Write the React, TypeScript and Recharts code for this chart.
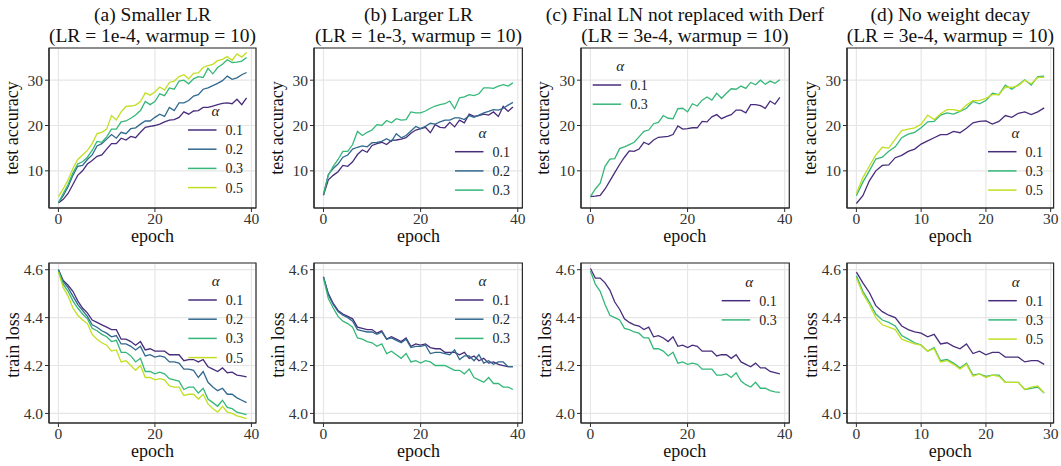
import React from 'react';
import { LineChart, Line, XAxis, YAxis, CartesianGrid, ReferenceArea } from 'recharts';

const FONT = '"Liberation Serif", "Times New Roman", Times, "DejaVu Serif", "Noto Serif", serif';

const epochs40 = [0,1,2,3,4,5,6,7,8,9,10,11,12,13,14,15,16,17,18,19,20,21,22,23,24,25,26,27,28,29,30,31,32,33,34,35,36,37,38,39];
const epochs30 = [0,1,2,3,4,5,6,7,8,9,10,11,12,13,14,15,16,17,18,19,20,21,22,23,24,25,26,27,28,29];

const alphaColors: Record<string, string> = {
  '0.1': '#472d7b',
  '0.2': '#31688e',
  '0.3': '#35b779',
  '0.5': '#c2df23',
};

const titlesLine1 = ['(a) Smaller LR', '(b) Larger LR', '(c) Final LN not replaced with Derf', '(d) No weight decay'];
const titlesLine2 = ['(LR = 1e-4, warmup = 10)', '(LR = 1e-3, warmup = 10)', '(LR = 3e-4, warmup = 10)', '(LR = 3e-4, warmup = 10)'];

const ticks40 = [0, 20, 40];
const ticks30 = [0, 10, 20, 30];
const accTicks = [10, 20, 30];
const lossTicks = [4.0, 4.2, 4.4, 4.6];

// ---------- test accuracy ----------
const accA_01 = [2.9,3.7,5,7,9,10,11.5,12.3,13.2,13.5,14.8,16,16,17.2,16.8,17.6,17.3,18.5,19.6,19.8,20,20.3,20.8,21.2,21.3,21.8,23,22.5,23.2,23.3,24,24,24.3,24.6,24.9,25,24.8,25.8,24.6,26.1];
const accA_02 = [3,4.5,6.5,9,11,11.2,12.5,13.5,15.5,16,17,18,17.2,18.5,18.2,19.3,19.5,20.3,21,21,21.8,22.5,22,24,23.3,25,25,25.5,26.5,26.8,28,28.3,28.8,29.3,29.9,30.9,30.2,30.5,31.2,31.7];
const accA_03 = [3,5,7,9.5,11.5,12,13,14.5,16.5,16.3,17.5,19.2,19.2,20.8,21,21.6,22.3,23.3,25.3,24.6,25.3,27,26.6,28.3,28,29.8,30,29.2,30.3,30.8,30.6,32.6,31.4,32.8,33.5,34.5,33.9,34,34.2,35];
const accA_05 = [4.3,6,8,10.5,12.5,13.5,14.5,16,18.2,18.5,19.2,22.2,21.2,23,24.2,24.3,24.5,25.3,27.2,26.7,27.4,28.5,27.8,29.5,29.8,30.8,31.2,30.3,31.5,31.6,32.8,33.2,33.5,34.3,34.6,35.2,34.4,35.8,35.1,36.1];

const accB_01 = [4.6,8,9,9.8,11.2,11,12,13.6,14.6,14.1,15.6,16,16.3,15.8,16.7,16.8,17,17.3,18.3,19,19.3,19.6,18.4,20.2,19.6,19.5,20.7,19.7,21.2,20.6,22.5,22,22.2,22.5,22.3,23,22,24.2,23.1,24.1];
const accB_02 = [4.8,9.2,10.5,11.5,13,13.5,14.8,15.2,15.5,15.3,16.2,16.3,16.5,17.1,16.5,18.2,17.3,17.8,18.8,19.8,19.3,19.8,20.5,20.3,20.8,21.2,21.2,21.7,21.7,21.3,22.2,21.8,22.3,22.8,23.1,23.5,23.4,23.8,24.5,25.1];
const accB_03 = [4.8,9,11,12.5,14.3,14.3,15.8,18.7,17.8,18.5,19,20.2,20,21.1,20.6,21.5,21.2,21.3,23,22.8,22.8,23.2,23.8,24.3,24.6,24.8,25.4,23.7,26.1,26.3,26.8,26.6,27,28.3,28.3,28.2,28.7,29,28.7,29.4];

const accC_01 = [4.3,4.4,4.6,6,7.8,9.6,11.4,13,14.4,14.3,14.8,16.3,15.8,16.8,17.4,17.5,17.6,18,19.9,19.2,19.3,19.5,19.5,20.9,20.8,21.9,22.4,21.5,22,22.4,23.4,23.4,22.8,24.6,24.6,24.4,23.8,25.4,24.7,26.2];
const accC_03 = [4.3,6,7.3,11,12.6,12.7,14.9,15.3,15.8,16.3,17.5,18.7,19,20.4,20.7,22.2,21.6,21.5,23.7,23.8,23,24.8,24.3,25.6,26.3,25.6,27.1,26,27.1,28.1,28,28.7,28.2,29.5,29,30,29.1,29.8,29.3,30.1];

const accD_01 = [2.8,4.5,7.8,10,11.2,11.3,12.9,13.4,14.3,14.8,15.9,16.6,17.3,18,18,18.7,18.4,19.4,20.6,20.9,21,20.3,20.9,22.2,21.8,22.7,23,22.4,23,23.9];
const accD_03 = [4.5,7.5,10,12.6,13,14.3,15.3,17.3,18.1,18.5,19.5,20.8,20.9,22.3,22.8,22.5,23.1,23.8,25.3,24.8,25.5,27.1,26.8,28.9,28,29,30.1,28.9,30.8,30.9];
const accD_05 = [5,8.5,11,13.5,15.2,15,17,18.9,19.2,19.5,20.3,22.3,21.3,22.6,23.5,23.5,23.2,24.5,25.5,25.5,26,26.8,26.8,28.5,28.4,28.8,30,29.2,30.6,30.6];

// ---------- train loss ----------
const lossA_01 = [4.6,4.555,4.535,4.51,4.47,4.44,4.42,4.39,4.38,4.37,4.36,4.35,4.35,4.31,4.31,4.3,4.285,4.3,4.265,4.27,4.26,4.26,4.26,4.245,4.245,4.245,4.22,4.225,4.225,4.215,4.225,4.195,4.185,4.175,4.19,4.17,4.172,4.16,4.157,4.153];
const lossA_02 = [4.6,4.55,4.525,4.49,4.455,4.43,4.405,4.37,4.36,4.345,4.335,4.32,4.325,4.29,4.29,4.28,4.265,4.28,4.24,4.245,4.235,4.24,4.235,4.215,4.215,4.21,4.185,4.185,4.18,4.15,4.175,4.13,4.11,4.095,4.105,4.08,4.08,4.065,4.055,4.045];
const lossA_03 = [4.595,4.54,4.51,4.47,4.44,4.415,4.395,4.355,4.345,4.33,4.32,4.3,4.305,4.255,4.255,4.24,4.215,4.23,4.175,4.175,4.165,4.172,4.165,4.145,4.14,4.135,4.1,4.11,4.11,4.085,4.105,4.06,4.045,4.03,4.055,4.025,4.02,4.005,4.0,3.995];
const lossA_05 = [4.59,4.525,4.49,4.44,4.41,4.39,4.375,4.33,4.31,4.295,4.285,4.26,4.265,4.215,4.22,4.2,4.18,4.2,4.15,4.15,4.14,4.145,4.14,4.115,4.11,4.11,4.075,4.08,4.08,4.06,4.08,4.04,4.02,4.005,4.03,4.005,4.0,3.99,3.985,3.978];

const lossB_01 = [4.57,4.5,4.46,4.43,4.415,4.405,4.395,4.36,4.355,4.35,4.35,4.335,4.345,4.31,4.32,4.31,4.3,4.315,4.28,4.29,4.285,4.29,4.275,4.27,4.27,4.255,4.255,4.255,4.245,4.255,4.23,4.24,4.22,4.23,4.21,4.215,4.205,4.2,4.195,4.195];
const lossB_02 = [4.57,4.495,4.455,4.425,4.41,4.4,4.385,4.35,4.345,4.34,4.34,4.33,4.34,4.31,4.315,4.305,4.295,4.31,4.275,4.28,4.28,4.285,4.25,4.255,4.255,4.25,4.245,4.265,4.225,4.24,4.24,4.22,4.245,4.21,4.22,4.205,4.215,4.215,4.195,4.195];
const lossB_03 = [4.565,4.48,4.44,4.405,4.385,4.375,4.36,4.315,4.31,4.3,4.295,4.28,4.29,4.25,4.26,4.245,4.23,4.25,4.215,4.22,4.21,4.22,4.215,4.2,4.2,4.2,4.19,4.18,4.18,4.165,4.185,4.15,4.14,4.13,4.15,4.125,4.125,4.11,4.11,4.1];

const lossC_01 = [4.605,4.565,4.565,4.545,4.515,4.465,4.435,4.395,4.38,4.37,4.365,4.35,4.36,4.32,4.325,4.315,4.3,4.32,4.28,4.285,4.275,4.285,4.28,4.26,4.26,4.26,4.24,4.245,4.245,4.23,4.245,4.215,4.205,4.195,4.21,4.19,4.19,4.175,4.17,4.165];
const lossC_03 = [4.595,4.54,4.51,4.455,4.41,4.4,4.39,4.355,4.35,4.34,4.335,4.315,4.315,4.27,4.27,4.26,4.24,4.255,4.21,4.215,4.205,4.21,4.205,4.185,4.185,4.185,4.16,4.16,4.165,4.15,4.17,4.135,4.12,4.11,4.13,4.105,4.105,4.095,4.09,4.088];

const lossD_01 = [4.59,4.545,4.505,4.45,4.425,4.41,4.4,4.365,4.35,4.34,4.335,4.32,4.33,4.29,4.295,4.28,4.27,4.29,4.25,4.26,4.245,4.255,4.255,4.235,4.235,4.235,4.215,4.22,4.22,4.205];
const lossD_03 = [4.575,4.51,4.465,4.415,4.39,4.38,4.365,4.325,4.31,4.295,4.285,4.26,4.275,4.22,4.225,4.21,4.19,4.21,4.16,4.165,4.155,4.16,4.16,4.13,4.13,4.13,4.1,4.105,4.11,4.085];
const lossD_05 = [4.565,4.5,4.455,4.4,4.37,4.36,4.35,4.31,4.3,4.29,4.285,4.26,4.27,4.215,4.22,4.205,4.185,4.205,4.155,4.165,4.15,4.16,4.155,4.13,4.13,4.13,4.1,4.11,4.115,4.085];

type Series = { key: string; values: number[] };

function buildRows(epochs: number[], series: Series[]) {
  return epochs.map((e, i) => {
    const row: Record<string, number> = { epoch: e };
    series.forEach((s) => {
      row['a' + s.key] = s.values[i];
    });
    return row;
  });
}

// layout (positions only)
const plotLefts = [49, 314.3, 580.7, 847];
const plotWidths = [207, 208.4, 208.3, 206.6];
const Y_AXIS_W = 49;
const RIGHT_PAD = 6;

const TOP_CHART_TOP = 0;
const TOP_CHART_H = 250;
const TOP_MARGIN = 48;
const TOP_XAXIS_H = 42;

const BOT_CHART_TOP = 250;
const BOT_CHART_H = 216;
const BOT_MARGIN = 13;
const BOT_XAXIS_H = 43;

const PLOT_H = 160;

const xDom40: [number, number] = [-1.95, 40.95];
const xDom30: [number, number] = [-1.45, 30.45];
const accDom: [number, number] = [1.8, 37.1];
const lossDom: [number, number] = [3.96, 4.628];

const topSeries: Series[][] = [
  [{ key: '0.1', values: accA_01 }, { key: '0.2', values: accA_02 }, { key: '0.3', values: accA_03 }, { key: '0.5', values: accA_05 }],
  [{ key: '0.1', values: accB_01 }, { key: '0.2', values: accB_02 }, { key: '0.3', values: accB_03 }],
  [{ key: '0.1', values: accC_01 }, { key: '0.3', values: accC_03 }],
  [{ key: '0.1', values: accD_01 }, { key: '0.3', values: accD_03 }, { key: '0.5', values: accD_05 }],
];
const botSeries: Series[][] = [
  [{ key: '0.1', values: lossA_01 }, { key: '0.2', values: lossA_02 }, { key: '0.3', values: lossA_03 }, { key: '0.5', values: lossA_05 }],
  [{ key: '0.1', values: lossB_01 }, { key: '0.2', values: lossB_02 }, { key: '0.3', values: lossB_03 }],
  [{ key: '0.1', values: lossC_01 }, { key: '0.3', values: lossC_03 }],
  [{ key: '0.1', values: lossD_01 }, { key: '0.3', values: lossD_03 }, { key: '0.5', values: lossD_05 }],
];
const panelEpochs = [epochs40, epochs40, epochs40, epochs30];

// legend positions: [lineX1, firstRowY]
const topLegendPos: [number, number][] = [[188, 130], [455, 151.7], [592.7, 85], [988, 151.7]];
const botLegendPos: [number, number][] = [[188.3, 300], [455, 300], [721.7, 300.7], [988.3, 300.7]];

const AXIS_COLOR = '#2b2b2b';
const GRID_COLOR = '#e6e6e6';
const TEXT_STYLE = { fontFamily: FONT };

function Panel(props: { idx: number; row: 'top' | 'bot' }) {
  const { idx, row } = props;
  const isTop = row === 'top';
  const series = isTop ? topSeries[idx] : botSeries[idx];
  const epochs = panelEpochs[idx];
  const data = buildRows(epochs, series);
  const xDom = idx === 3 ? xDom30 : xDom40;
  const xTicks = idx === 3 ? ticks30 : ticks40;
  const yDom = isTop ? accDom : lossDom;
  const yTicks = isTop ? accTicks : lossTicks;
  const width = Y_AXIS_W + plotWidths[idx] + RIGHT_PAD;
  const left = plotLefts[idx] - Y_AXIS_W;
  const top = isTop ? TOP_CHART_TOP : BOT_CHART_TOP;
  const height = isTop ? TOP_CHART_H : BOT_CHART_H;
  const tickStyle = { fill: '#333', fontSize: 15.5, style: TEXT_STYLE };
  return (
    <div style={{ position: 'absolute', left, top, width, height, fontFamily: FONT }}>
      <LineChart
        width={width}
        height={height}
        data={data}
        style={TEXT_STYLE}
        margin={{ top: isTop ? TOP_MARGIN : BOT_MARGIN, right: RIGHT_PAD, left: 0, bottom: 0 }}
      >
        <CartesianGrid stroke={GRID_COLOR} strokeWidth={1.2} />
        <XAxis
          dataKey="epoch"
          type="number"
          domain={xDom}
          ticks={xTicks}
          allowDataOverflow
          height={isTop ? TOP_XAXIS_H : BOT_XAXIS_H}
          tick={tickStyle}
          tickSize={4}
          tickMargin={1}
          axisLine={{ stroke: AXIS_COLOR, strokeWidth: 1.2 }}
          tickLine={{ stroke: AXIS_COLOR, strokeWidth: 1 }}
        />
        <YAxis
          type="number"
          domain={yDom}
          ticks={yTicks}
          allowDataOverflow
          width={Y_AXIS_W}
          tick={tickStyle}
          tickSize={4}
          tickMargin={2}
          tickFormatter={(v: number) => (isTop ? String(v) : v.toFixed(1))}
          axisLine={{ stroke: AXIS_COLOR, strokeWidth: 1.2 }}
          tickLine={{ stroke: AXIS_COLOR, strokeWidth: 1 }}
        />
        {series.map((s) => (
          <Line
            key={s.key}
            dataKey={'a' + s.key}
            stroke={alphaColors[s.key]}
            strokeWidth={1.3}
            dot={false}
            activeDot={false}
            isAnimationActive={false}
            type="linear"
          />
        ))}
        <ReferenceArea
          x1={xDom[0]}
          x2={xDom[1]}
          y1={yDom[0]}
          y2={yDom[1]}
          fill="none"
          fillOpacity={0}
          stroke={AXIS_COLOR}
          strokeWidth={1.2}
          ifOverflow="visible"
        />
      </LineChart>
    </div>
  );
}

function LegendBlock(props: { pos: [number, number]; keys: string[] }) {
  const [x1, y0] = props.pos;
  const lineLen = 28.5;
  const step = 19.2;
  return (
    <g>
      <text
        x={x1 + lineLen - 1}
        y={y0 - step + 5}
        textAnchor="middle"
        style={{ fontFamily: FONT, fontStyle: 'italic' }}
        fontSize={15}
        fill="#222"
      >
        α
      </text>
      {props.keys.map((k, i) => (
        <g key={k}>
          <line
            x1={x1}
            x2={x1 + lineLen}
            y1={y0 + i * step}
            y2={y0 + i * step}
            stroke={alphaColors[k]}
            strokeWidth={1.5}
          />
          <text x={x1 + lineLen + 9} y={y0 + i * step + 5} style={TEXT_STYLE} fontSize={14} fill="#222">
            {k}
          </text>
        </g>
      ))}
    </g>
  );
}

export default function App() {
  const idxs = [0, 1, 2, 3];
  return (
    <div style={{ position: 'absolute', left: 0, top: 0, width: 1061, height: 466, background: '#fff', overflow: 'hidden', fontFamily: FONT }}>
      {idxs.map((i) => (
        <Panel key={'t' + i} idx={i} row="top" />
      ))}
      {idxs.map((i) => (
        <Panel key={'b' + i} idx={i} row="bot" />
      ))}
      <svg
        width={1061}
        height={466}
        style={{ position: 'absolute', left: 0, top: 0, pointerEvents: 'none', fontFamily: FONT }}
      >
        {idxs.map((i) => {
          const cx = plotLefts[i] + plotWidths[i] / 2;
          return (
            <g key={'lab' + i}>
              <text x={cx} y={21} textAnchor="middle" style={TEXT_STYLE} fontSize={19.5} fill="#111">
                {titlesLine1[i]}
              </text>
              <text x={cx} y={41.5} textAnchor="middle" style={TEXT_STYLE} fontSize={19.5} fill="#111">
                {titlesLine2[i]}
              </text>
              <text x={cx} y={241.5} textAnchor="middle" style={TEXT_STYLE} fontSize={18} fill="#111">
                epoch
              </text>
              <text x={cx} y={456.5} textAnchor="middle" style={TEXT_STYLE} fontSize={18} fill="#111">
                epoch
              </text>
              <text
                x={0}
                y={0}
                transform={`translate(${plotLefts[i] - 31.5}, ${TOP_MARGIN + PLOT_H / 2}) rotate(-90)`}
                textAnchor="middle"
                style={TEXT_STYLE}
                fontSize={18}
                fill="#111"
              >
                test accuracy
              </text>
              <text
                x={0}
                y={0}
                transform={`translate(${plotLefts[i] - 30}, ${BOT_CHART_TOP + BOT_MARGIN + PLOT_H / 2 + 2}) rotate(-90)`}
                textAnchor="middle"
                style={TEXT_STYLE}
                fontSize={18}
                fill="#111"
              >
                train loss
              </text>
              <LegendBlock pos={topLegendPos[i]} keys={topSeries[i].map((s) => s.key)} />
              <LegendBlock pos={botLegendPos[i]} keys={botSeries[i].map((s) => s.key)} />
            </g>
          );
        })}
      </svg>
    </div>
  );
}
